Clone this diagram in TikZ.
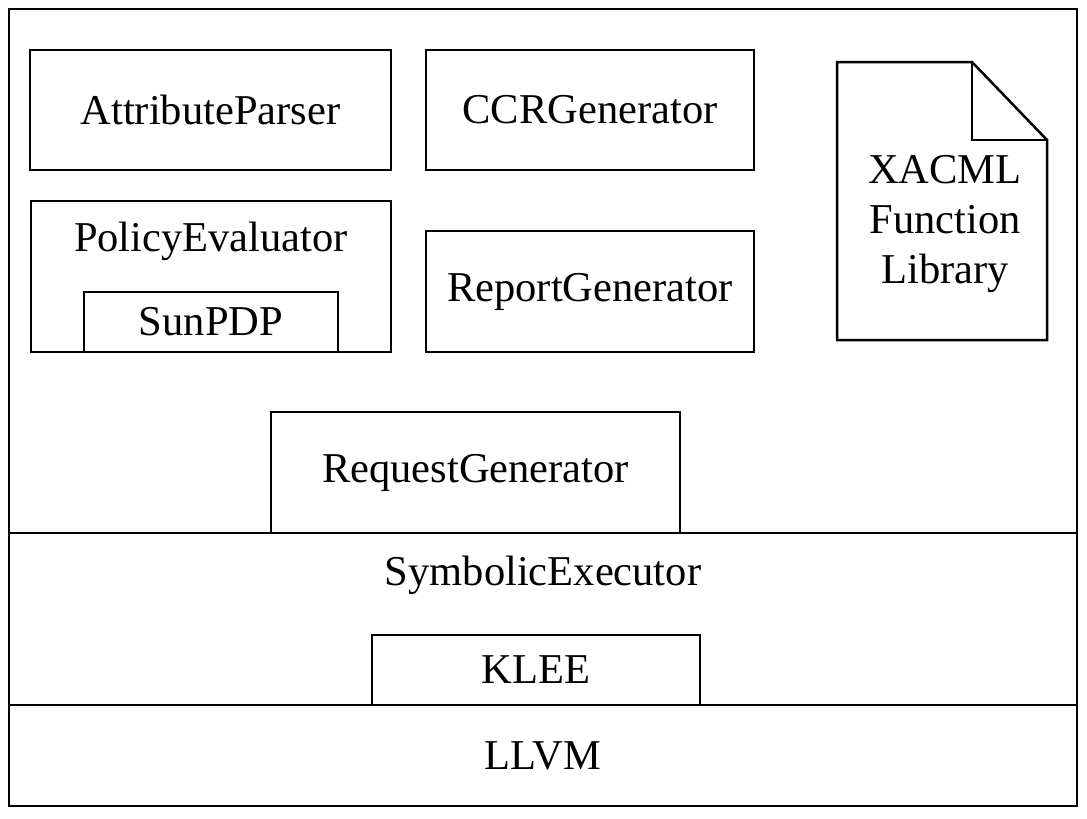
\documentclass[tikz,border=0pt]{standalone}
\usepackage{fontspec}
\setmainfont{Liberation Serif}
\begin{document}
\begin{tikzpicture}[x=1pt,y=-1pt,
  box/.style={draw=black,line width=2.5pt,rectangle,inner sep=0pt,
    font=\fontsize{42.5}{50}\selectfont},
  lbl/.style={inner sep=0pt,font=\fontsize{42.5}{50}\selectfont},
  line join=miter]
\useasboundingbox (0,0) rectangle (1087,819);
% layers
\node[box,minimum width=1068pt,minimum height=524pt] (frame) at (543,271) {};
\node[box,minimum width=1068pt,minimum height=172pt] (sym) at (543,619) {};
\node[box,minimum width=1068pt,minimum height=101pt] (llvm) at (543,755.5) {LLVM};
\node[lbl] (symt) at (543,575) {SymbolicExecutor};
\node[box,minimum width=328pt,minimum height=70pt] (klee) at (536,670) {KLEE};
% components
\node[box,minimum width=361pt,minimum height=120pt] (ap) at (210.5,110) {AttributeParser};
\node[box,minimum width=328pt,minimum height=120pt] (ccr) at (590,110) {CCRGenerator};
\node[box,minimum width=360pt,minimum height=151pt] (pe) at (211,276.5) {};
\node[lbl] (pet) at (211,241) {PolicyEvaluator};
\node[box,minimum width=254pt,minimum height=60pt] (sun) at (211,322) {SunPDP};
\node[box,minimum width=328pt,minimum height=121pt] (rg) at (590,291.5) {ReportGenerator};
\node[box,minimum width=409pt,minimum height=121pt] (req) at (475.5,472.5) {RequestGenerator};
% document shape
\coordinate (d1) at (837,62);
\coordinate (d2) at (972,62);
\coordinate (d3) at (1047,140);
\coordinate (d4) at (1047,340);
\coordinate (d5) at (837,340);
\coordinate (df) at (972,140);
\draw[line width=2.5pt] (d1) -- (d2) -- (d3) -- (d4) -- (d5) -- cycle;
\draw[line width=2.5pt] (d2) -- (df) -- (d3);
\node[lbl,align=center,font=\fontsize{42.5}{50}\selectfont] (xacml) at (945,224) {XACML\\Function\\Library};
\end{tikzpicture}
\end{document}
